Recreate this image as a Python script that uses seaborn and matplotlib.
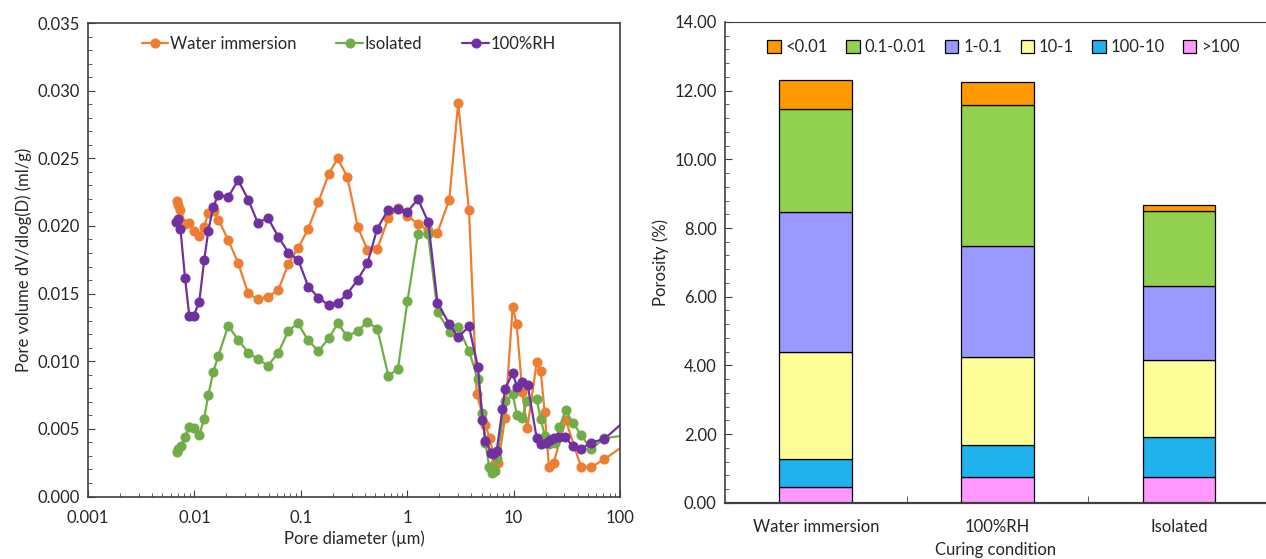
import numpy as np
import pandas as pd
import seaborn as sns
import matplotlib.pyplot as plt
from matplotlib.ticker import LogLocator, NullFormatter, MultipleLocator

sns.set_style("ticks")
plt.rcParams["font.family"] = ["Lato", "DejaVu Sans"]

# Pore size distribution (left panel)
water_d = [0.00682, 0.00706, 0.00740, 0.00825, 0.00896, 0.00985, 0.01112, 0.01231, 0.01351, 0.01519,
           0.01684, 0.02083, 0.02581, 0.03202, 0.03935, 0.04916, 0.06146, 0.07663, 0.09412, 0.1176,
           0.1467, 0.1829, 0.2222, 0.2735, 0.3433, 0.4234, 0.5236, 0.6645, 0.8142, 1.0065,
           1.263, 1.569, 1.927, 2.487, 3.015, 3.809, 4.510, 5.443, 5.963, 6.716,
           7.181, 8.303, 9.806, 10.69, 12.07, 13.45, 16.49, 17.98, 19.60, 21.51,
           23.82, 30.89, 43.00, 53.39, 71.19, 120.0]
water_v = [0.02187, 0.02158, 0.02116, 0.02014, 0.02025, 0.01965, 0.01927, 0.01994, 0.02093, 0.02109,
           0.02044, 0.01896, 0.01725, 0.01502, 0.01458, 0.01478, 0.01526, 0.01722, 0.01835, 0.01980,
           0.02179, 0.02384, 0.02499, 0.02364, 0.01991, 0.01824, 0.01830, 0.02057, 0.02133, 0.02077,
           0.02014, 0.01970, 0.01950, 0.02195, 0.02909, 0.02118, 0.00756, 0.00525, 0.00434, 0.00248,
           0.00245, 0.00580, 0.01403, 0.01273, 0.00775, 0.00503, 0.00992, 0.00926, 0.00625, 0.00220,
           0.00250, 0.00565, 0.00220, 0.00216, 0.00275, 0.00400]

iso_d = [0.00682, 0.00709, 0.00743, 0.00816, 0.00896, 0.00991, 0.01112, 0.01231, 0.01351, 0.01506,
         0.01677, 0.02083, 0.02581, 0.03210, 0.03935, 0.04916, 0.06146, 0.07663, 0.09412, 0.1168,
         0.1467, 0.1829, 0.2222, 0.2735, 0.3433, 0.4234, 0.5236, 0.6673, 0.8195, 1.0065,
         1.263, 1.569, 1.935, 2.508, 3.015, 3.809, 4.628, 5.103, 5.443, 5.911,
         6.307, 6.686, 7.027, 8.303, 9.806, 10.76, 11.92, 13.45, 16.49, 18.02,
         19.73, 21.74, 24.50, 27.00, 30.89, 35.94, 43.00, 53.39, 71.19, 120.0]
iso_v = [0.00331, 0.00353, 0.00373, 0.00442, 0.00512, 0.00506, 0.00455, 0.00571, 0.00750, 0.00923,
         0.01039, 0.01262, 0.01157, 0.01063, 0.01016, 0.00968, 0.01063, 0.01226, 0.01280, 0.01155,
         0.01076, 0.01168, 0.01280, 0.01184, 0.01225, 0.01291, 0.01240, 0.00891, 0.00945, 0.01445,
         0.01940, 0.01943, 0.01362, 0.01218, 0.01255, 0.01076, 0.00866, 0.00619, 0.00393, 0.00220,
         0.00171, 0.00191, 0.00282, 0.00704, 0.00755, 0.00602, 0.00578, 0.00707, 0.00719, 0.00571,
         0.00445, 0.00388, 0.00393, 0.00514, 0.00639, 0.00547, 0.00457, 0.00349, 0.00430, 0.00456]

rh_d = [0.00676, 0.00706, 0.00740, 0.00816, 0.00896, 0.00985, 0.01112, 0.01237, 0.01351, 0.01506,
        0.01677, 0.02083, 0.02581, 0.03210, 0.03935, 0.04916, 0.06146, 0.07663, 0.09474, 0.1176,
        0.1467, 0.1829, 0.2222, 0.2735, 0.3433, 0.4234, 0.5236, 0.6645, 0.8142, 1.0065,
        1.263, 1.579, 1.927, 2.487, 3.015, 3.809, 4.628, 5.103, 5.443, 6.172,
        6.473, 6.937, 7.866, 8.303, 9.806, 10.76, 11.92, 13.57, 16.49, 18.21,
        20.16, 21.98, 23.98, 26.60, 30.42, 35.94, 43.00, 53.75, 71.19, 120.0]
rh_v = [0.02031, 0.02048, 0.01977, 0.01617, 0.01335, 0.01335, 0.01441, 0.01748, 0.01965, 0.02142,
        0.02229, 0.02216, 0.02338, 0.02195, 0.02024, 0.02059, 0.01920, 0.01802, 0.01748, 0.01552,
        0.01471, 0.01413, 0.01433, 0.01498, 0.01603, 0.01724, 0.01981, 0.02121, 0.02124, 0.02105,
        0.02199, 0.02027, 0.01433, 0.01275, 0.01177, 0.01258, 0.00955, 0.00565, 0.00410, 0.00325,
        0.00314, 0.00336, 0.00647, 0.00795, 0.00913, 0.00812, 0.00843, 0.00824, 0.00432, 0.00387,
        0.00392, 0.00414, 0.00430, 0.00442, 0.00441, 0.00373, 0.00351, 0.00399, 0.00425, 0.00582]

# Porosity by pore size range (right panel), stacked bottom -> top
conditions = ["Water immersion", "100%RH", "Isolated"]
ranges = [">100", "100-10", "10-1", "1-0.1", "0.1-0.01", "<0.01"]
gt100 = [0.47, 0.76, 0.75]
r100_10 = [0.81, 0.93, 1.15]
r10_1 = [3.12, 2.56, 2.26]
r1_01 = [4.07, 3.23, 2.16]
r01_001 = [3.01, 4.10, 2.17]
lt001 = [0.83, 0.68, 0.17]
bar_colors = ["#FF99FF", "#1FB2EC", "#FFFF99", "#9999FF", "#92D050", "#FF9900"]

fig = plt.figure(figsize=(12.66, 5.59), dpi=100)
spine_col = "#404040"

# ---- left panel
ax1 = fig.add_axes([0.0695, 0.1118, 0.4202, 0.8470])
series = [("Water immersion", water_d, water_v, "#ED7D31"),
          ("Isolated", iso_d, iso_v, "#70AD47"),
          ("100%RH", rh_d, rh_v, "#7030A0")]
for name, d, v, c in series:
    df = pd.DataFrame({"d": d, "v": v})
    sns.lineplot(data=df, x="d", y="v", ax=ax1, color=c, marker="o", markersize=6.5,
                 markeredgecolor=c, linewidth=1.6, sort=False, estimator=None, label=name)
ax1.set_xscale("log")
ax1.set_xlim(0.001, 100)
ax1.set_ylim(0, 0.035)
xt = [0.001, 0.01, 0.1, 1, 10, 100]
ax1.set_xticks(xt)
ax1.set_xticklabels(["0.001", "0.01", "0.1", "1", "10", "100"])
ax1.xaxis.set_minor_locator(LogLocator(base=10, subs=np.arange(2, 10)))
ax1.xaxis.set_minor_formatter(NullFormatter())
yt = np.arange(0, 0.0351, 0.005)
ax1.set_yticks(yt)
ax1.set_yticklabels([f"{t:.3f}" for t in yt])
ax1.yaxis.set_minor_locator(MultipleLocator(0.001))
ax1.tick_params(which="both", direction="in", labelsize=12, color=spine_col, pad=6)
ax1.tick_params(axis="x", which="both", pad=10)
ax1.tick_params(which="major", length=5)
ax1.tick_params(which="minor", length=3)
for s in ax1.spines.values():
    s.set_color(spine_col)
    s.set_linewidth(1.2)
ax1.set_xlabel("Pore diameter (\u00b5m)", fontsize=12, labelpad=3)
ax1.set_ylabel("Pore volume dV/dlog(D) (ml/g)", fontsize=12)
ax1.legend(loc="upper center", bbox_to_anchor=(0.49, 1.005), ncol=3, frameon=False,
           fontsize=12, handlelength=1.6, handletextpad=0.1, columnspacing=2.4)

# ---- right panel
ax2 = fig.add_axes([0.5727, 0.1007, 0.4273, 0.8600])
cols = [gt100, r100_10, r10_1, r1_01, r01_001, lt001]
bottom = np.zeros(len(conditions))
for name, vals, c in zip(ranges, cols, bar_colors):
    sns.barplot(x=conditions, y=vals, bottom=bottom, color=c, saturation=1, width=0.4,
                edgecolor="black", linewidth=0.9, ax=ax2, label=name)
    bottom = bottom + np.array(vals)
ax2.set_xlim(-0.5, 2.48)
ax2.set_ylim(0, 14)
ax2.set_yticks(np.arange(0, 14.01, 2))
ax2.set_yticklabels([f"{t:.2f}" for t in np.arange(0, 14.01, 2)])
ax2.yaxis.set_minor_locator(MultipleLocator(0.4))
ax2.set_xticks([0, 1, 2])
ax2.set_xticklabels(conditions)
ax2.set_xticks([0.5, 1.5], minor=True)
ax2.tick_params(which="both", direction="in", labelsize=12, color=spine_col, pad=6)
ax2.tick_params(axis="x", which="both", pad=12)
ax2.tick_params(axis="y", which="major", length=5)
ax2.tick_params(axis="y", which="minor", length=3)
ax2.tick_params(axis="x", which="major", length=3)
ax2.tick_params(axis="x", which="minor", length=5)
ax2.spines["right"].set_visible(False)
for k in ["left", "bottom", "top"]:
    ax2.spines[k].set_color(spine_col)
ax2.spines["left"].set_linewidth(1.2)
ax2.spines["bottom"].set_linewidth(1.6)
ax2.spines["top"].set_linewidth(0.8)
ax2.set_xlabel("Curing condition", fontsize=12, labelpad=5)
ax2.set_ylabel("Porosity (%)", fontsize=12)
h, l = ax2.get_legend_handles_labels()
ax2.legend(h[::-1], l[::-1], loc="upper center", bbox_to_anchor=(0.515, 0.995), ncol=6,
           frameon=False, fontsize=12, handlelength=0.8, handleheight=0.8,
           handletextpad=0.3, columnspacing=1.1)

fig.savefig("out.png", dpi=100)
